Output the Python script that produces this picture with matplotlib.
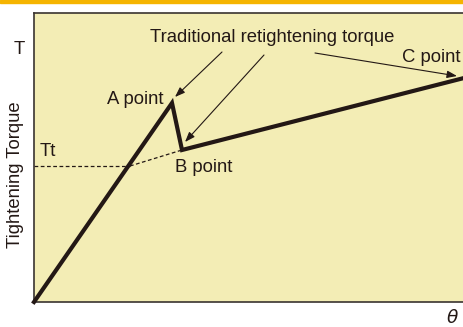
import matplotlib.pyplot as plt
from matplotlib.patches import Rectangle

plt.rcParams['font.family'] = ['Liberation Sans', 'DejaVu Sans']

# torque curve: origin -> A point -> B point -> C point
curve_x = [0, 138, 148, 430]
curve_y = [0, 199, 152, 224]

# Tt level and the dashed extension of the B-C line
tt_level = 136
tt_cross_x = 96
ext_x = [tt_cross_x, 148]
ext_y = [tt_level, 152]

t_level = 253

bg = '#F3EDB5'
ink = '#231815'

fig = plt.figure(figsize=(4.64, 3.27), dpi=100)
fig.patches.append(Rectangle((0, 1 - 3 / 327), 1, 3 / 327, transform=fig.transFigure,
                             color='#F5B400', zorder=0))

ax = fig.add_axes([34 / 464, 25 / 327, 432 / 464, 289 / 327])
ax.set_facecolor(bg)
ax.set_xlim(0, 432)
ax.set_ylim(0, 289)
for side in ['left', 'bottom', 'top']:
    ax.spines[side].set_color('#3a3330')
    ax.spines[side].set_linewidth(1.2)
ax.spines['right'].set_visible(False)
ax.set_xticks([])
ax.set_yticks([])

ax.plot(curve_x, curve_y, color=ink, lw=3, solid_joinstyle='miter', clip_on=False, zorder=3)
ax.plot([0, tt_cross_x], [tt_level, tt_level], color=ink, lw=0.9, ls=(0, (3, 2)))
ax.plot(ext_x, ext_y, color=ink, lw=0.9, ls=(0, (3, 2)))

fs = 13.3
ax.text(-15, t_level, 'T', ha='center', va='center', fontsize=fs, color=ink, clip_on=False)
ax.text(6, 150, 'Tt', ha='left', va='center', fontsize=fs, color=ink)
ax.text(-18, 127, 'Tightening Torque', rotation=90, ha='center', va='center',
        fontsize=fs, color=ink, clip_on=False)
ax.text(418, -16, r'$\theta$', ha='center', va='center', fontsize=fs, color=ink, clip_on=False)

ax.text(130, 203, 'A point', ha='right', va='center', fontsize=fs, color=ink)
ax.text(141, 134, 'B point', ha='left', va='center', fontsize=fs, color=ink)
ax.text(116, 265, 'Traditional retightening torque', ha='left', va='center', fontsize=fs, color=ink)
ax.text(368, 244, 'C point', ha='left', va='center', fontsize=fs, color=ink)

arrow = dict(arrowstyle='-|>,head_length=0.6,head_width=0.22', color=ink, lw=0.8,
             shrinkA=0, shrinkB=0)
ax.annotate('', xy=(141, 205), xytext=(188, 250), arrowprops=arrow)
ax.annotate('', xy=(151, 160), xytext=(230, 247), arrowprops=arrow)
ax.annotate('', xy=(423, 226), xytext=(281, 249), arrowprops=arrow)

fig.savefig('out.png', dpi=100, facecolor='white')
